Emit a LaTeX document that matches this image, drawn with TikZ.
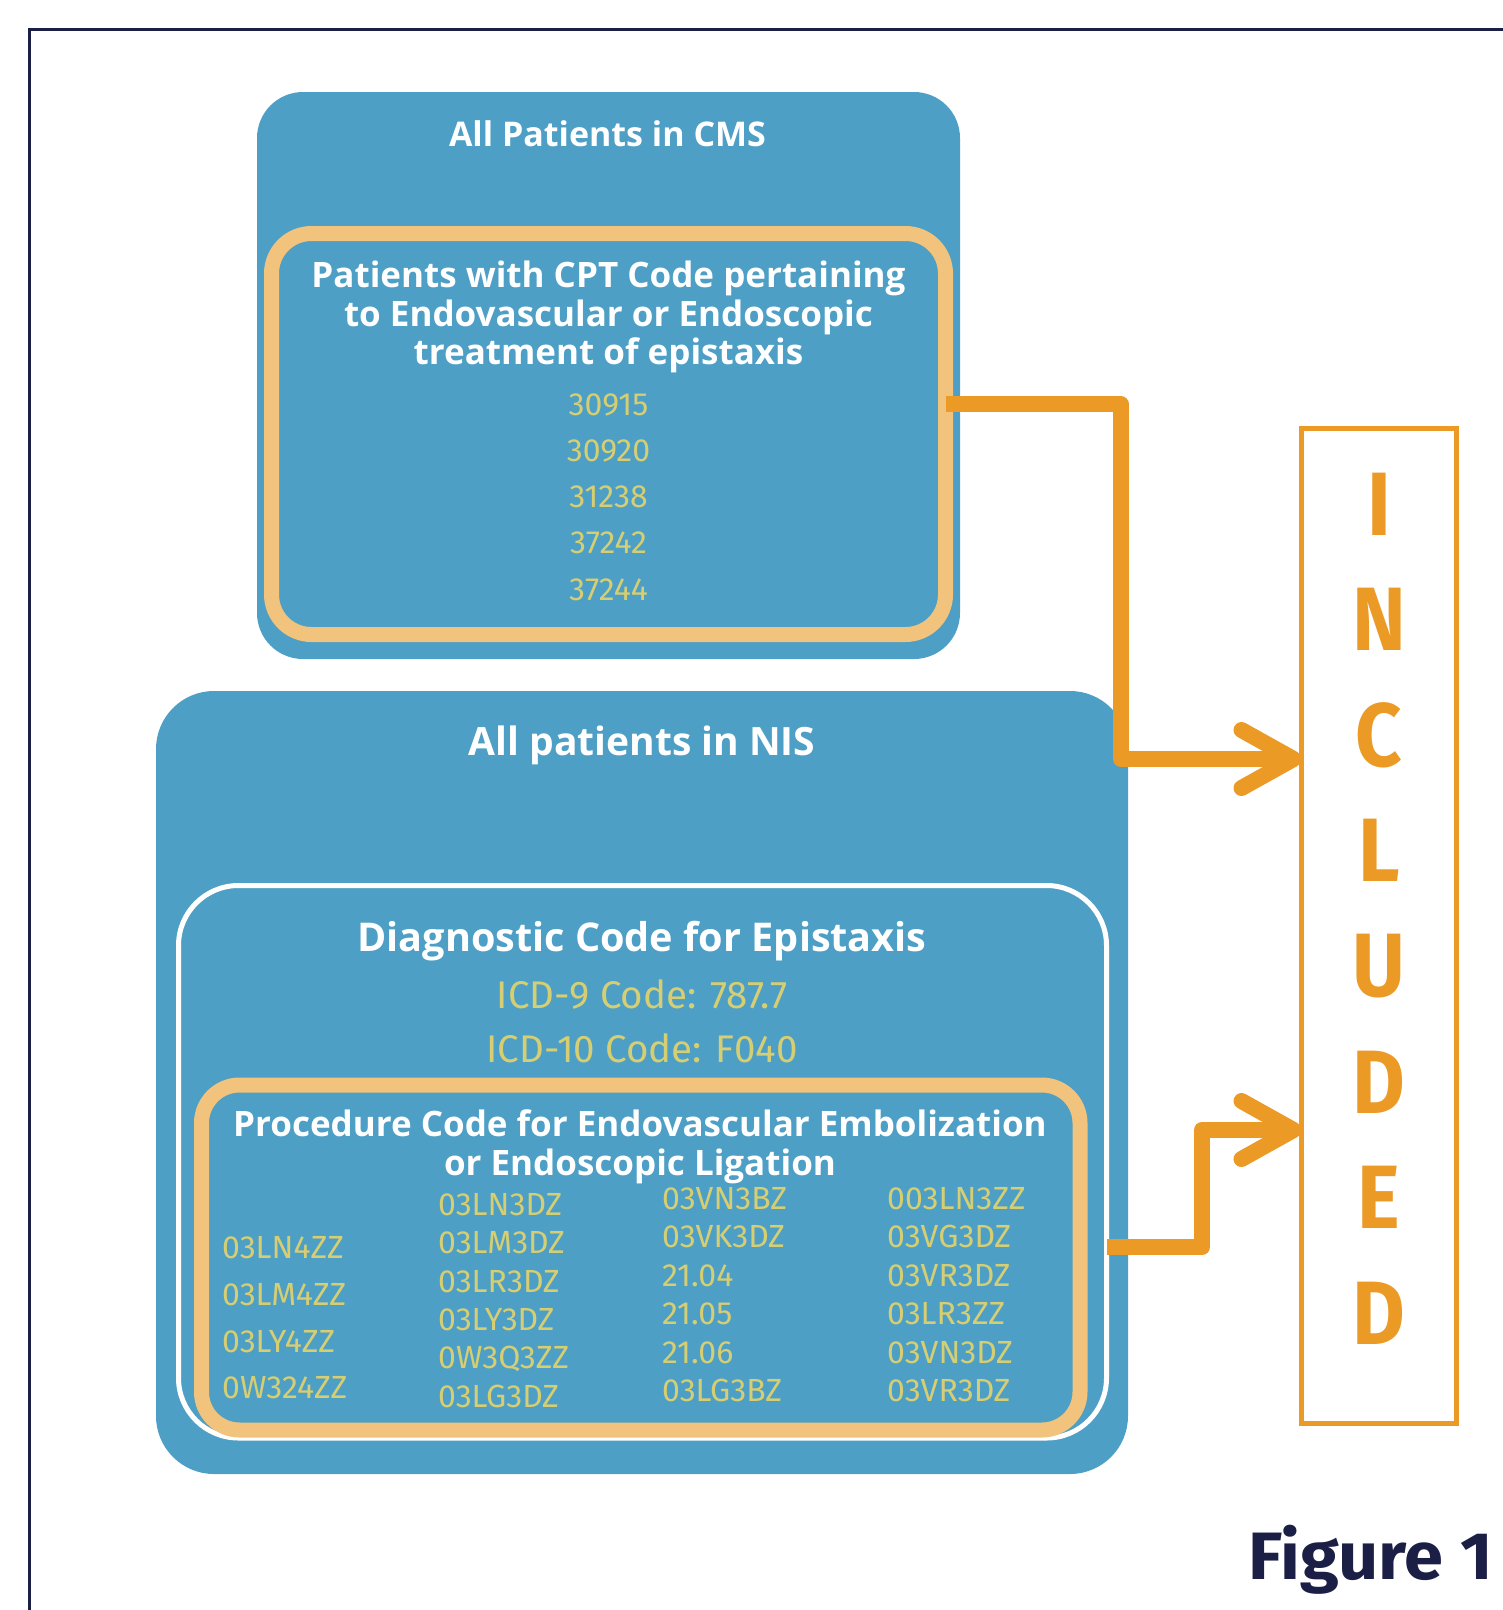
\documentclass[tikz,border=0pt]{standalone}
\usepackage{fontspec}
\setmainfont{Fira Sans}
\newfontfamily\headsans{Open Sans}
\newfontfamily\lettersans[FakeStretch=0.9]{Fira Sans}
\newfontfamily\figsans[FakeStretch=1.05]{Fira Sans}
\usetikzlibrary{arrows.meta,positioning}
\definecolor{boxblue}{RGB}{78,159,197}
\definecolor{lineorange}{RGB}{234,154,37}
\definecolor{paleorange}{RGB}{242,195,124}
\definecolor{codeyellow}{RGB}{214,206,114}
\definecolor{framenavy}{RGB}{27,31,69}

\begin{document}
\begin{tikzpicture}[x=1pt, y=-1pt,
        panel/.style = {fill=boxblue, inner sep=0pt, outer sep=0pt},
        ring/.style = {panel, draw=paleorange, line width=15pt},
        whitering/.style = {panel, draw=white, line width=5pt},
        head/.style = {text=white, inner sep=0pt, anchor=base,
            font=\headsans\bfseries\fontsize{39}{39}\selectfont},
        smallhead/.style = {head, font=\headsans\bfseries\fontsize{34}{34}\selectfont},
        subhead/.style = {head, font=\headsans\bfseries\fontsize{35}{35}\selectfont},
        dxhead/.style = {head, font=\headsans\bfseries\fontsize{39.6}{39.6}\selectfont},
        code/.style = {text=codeyellow, inner sep=0pt, anchor=base,
            font=\fontsize{32}{32}\selectfont},
        icd/.style = {code, font=\fontsize{38.5}{38.5}\selectfont},
        flow/.style = {draw=lineorange, line width=16pt, line join=round,
            -{Straight Barb[length=52pt, width=58pt, round]}},
        letter/.style = {text=lineorange, inner sep=0pt,
            font=\lettersans\bfseries\fontsize{90}{90}\selectfont},
        ]
        \useasboundingbox (0,0) rectangle (1503,1610);
        \draw[framenavy, line width=3pt] (29,29) rectangle (1560,1660);

        % CMS side
        \node[panel, rounded corners=46pt, minimum width=703pt, minimum height=567pt] (cms) at (608.5,375.5) {};
        \node[smallhead] (cms-title) at (607.5,146) {All Patients in CMS};
        \node[ring, rounded corners=40pt, minimum width=674pt, minimum height=401pt] (cpt) at (608.5,434) {};
        \node[subhead] (cpt-l1) at (608.5,287) {Patients with CPT Code pertaining};
        \node[subhead] (cpt-l2) at (608.5,326) {to Endovascular or Endoscopic};
        \node[subhead] (cpt-l3) at (608.5,364) {treatment of epistaxis};
        \foreach \cpt [count=\i] in {30915,30920,31238,37242,37244}
            \node[code] (c\i) at (608.5,{415+(\i-1)*46.3}) {\cpt};

        % NIS side
        \node[panel, rounded corners=58pt, minimum width=972pt, minimum height=783pt] (nis) at (642,1082.5) {};
        \node[head] (nis-title) at (642,755) {All patients in NIS};
        \node[whitering, rounded corners=60pt, minimum width=928pt, minimum height=552.5pt] (dx) at (642.5,1161.75) {};
        \node[dxhead] (dx-title) at (642,951) {Diagnostic Code for Epistaxis};
        \node[icd] (icd9) at (642,1008) {ICD-9 Code: 787.7};
        \node[icd] (icd10) at (642,1062) {ICD-10 Code: F040};
        \node[ring, rounded corners=38pt, minimum width=878.5pt, minimum height=345pt] (proc) at (640.75,1257.5) {};
        \node[subhead] (proc-l1) at (640,1136) {Procedure Code for Endovascular Embolization};
        \node[subhead] (proc-l2) at (640,1175) {or Endoscopic Ligation};
        \foreach \pc/\yy [count=\i] in {03LN4ZZ/1258,03LM4ZZ/1305,03LY4ZZ/1352,0W324ZZ/1398}
            \node[code, anchor=base west] (pa\i) at (222,\yy) {\pc};
        \foreach \pc/\yy [count=\i] in {03LN3DZ/1215,03LM3DZ/1253,03LR3DZ/1292,03LY3DZ/1330,0W3Q3ZZ/1368,03LG3DZ/1407}
            \node[code, anchor=base west] (pb\i) at (438,\yy) {\pc};
        \foreach \pc/\yy [count=\i] in {03VN3BZ/1209,03VK3DZ/1247,21.04/1286,21.05/1324,21.06/1363,03LG3BZ/1401}
            \node[code, anchor=base west] (pc\i) at (662,\yy) {\pc};
        \foreach \pc/\yy [count=\i] in {003LN3ZZ/1209,03VG3DZ/1247,03VR3DZ/1286,03LR3ZZ/1324,03VN3DZ/1363,03VR3DZ/1401}
            \node[code, anchor=base west] (pd\i) at (887,\yy) {\pc};

        % included column
        \node[draw=lineorange, line width=5pt, inner sep=0pt, outer sep=0pt,
            minimum width=155pt, minimum height=995.5pt] (incl) at (1379,926) {};
        \foreach \ch [count=\i] in {I,N,C,L,U,D,E,D}
            \node[letter] (l\i) at (1379,{504+(\i-1)*115.6}) {\ch};

        \coordinate (bend1) at (1121,759);
        \coordinate (bend2) at (1202,1130);
        \draw[flow] (cpt.east |- c1) -| (bend1) -- (incl.west |- bend1);
        \draw[flow] (dx.east |- pa1) -| (bend2) -- (incl.west |- bend2);

        \node[text=framenavy, inner sep=0pt, anchor=base west,
            font=\figsans\bfseries\fontsize{67}{67}\selectfont] (fig) at (1248,1579) {Figure 1};
\end{tikzpicture}
\end{document}
